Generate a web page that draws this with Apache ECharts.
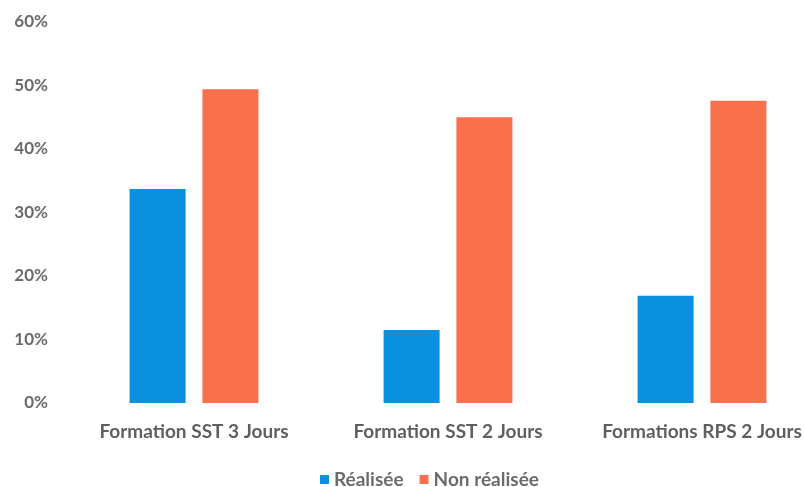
<!DOCTYPE html>
<html><head><meta charset="utf-8">
<script src="https://cdn.jsdelivr.net/npm/echarts@6/dist/echarts.min.js"></script>
<style>html,body{margin:0;padding:0;background:#fff}#c{width:804px;height:487px}</style>
</head><body><div id="c"></div>
<script>
const categories = ["Formation SST 3 Jours", "Formation SST 2 Jours", "Formations RPS 2 Jours"];
const realisee = [33.7, 11.5, 16.9];
const nonRealisee = [49.4, 45.0, 47.6];
const yTicks = [0, 10, 20, 30, 40, 50, 60];

const chart = echarts.init(document.getElementById('c'));
const font = 'Lato, "Open Sans", sans-serif';
chart.setOption({
  animation: false,
  grid: { left: 67, width: 762, top: 22, bottom: 84, outerBoundsMode: 'none', containLabel: false },
  legend: {
    bottom: -7, left: 315,
    itemWidth: 9, itemHeight: 9, itemGap: 16,
    icon: 'rect',
    textStyle: { color: '#6b6b6b', fontSize: 19, fontWeight: 'bold', fontFamily: font },
    data: ['Réalisée', 'Non réalisée']
  },
  xAxis: {
    type: 'category', data: categories,
    axisLine: { show: false }, axisTick: { show: false },
    axisLabel: { color: '#5f5f5f', fontSize: 19, fontWeight: 'bold', fontFamily: font, margin: 19, interval: 0 }
  },
  yAxis: {
    type: 'value', min: yTicks[0], max: yTicks[yTicks.length - 1], interval: 10,
    splitLine: { show: false }, axisLine: { show: false }, axisTick: { show: false },
    axisLabel: { color: '#6b6b6b', fontSize: 17, fontWeight: 'bold', fontFamily: font, margin: 19, formatter: v => v + '%' }
  },
  series: [
    { name: 'Réalisée', type: 'bar', data: realisee, barWidth: 56, barGap: '30%', itemStyle: { color: '#0b8fdf' } },
    { name: 'Non réalisée', type: 'bar', data: nonRealisee, barWidth: 56, itemStyle: { color: '#f9714c' } }
  ]
});
</script></body></html>
